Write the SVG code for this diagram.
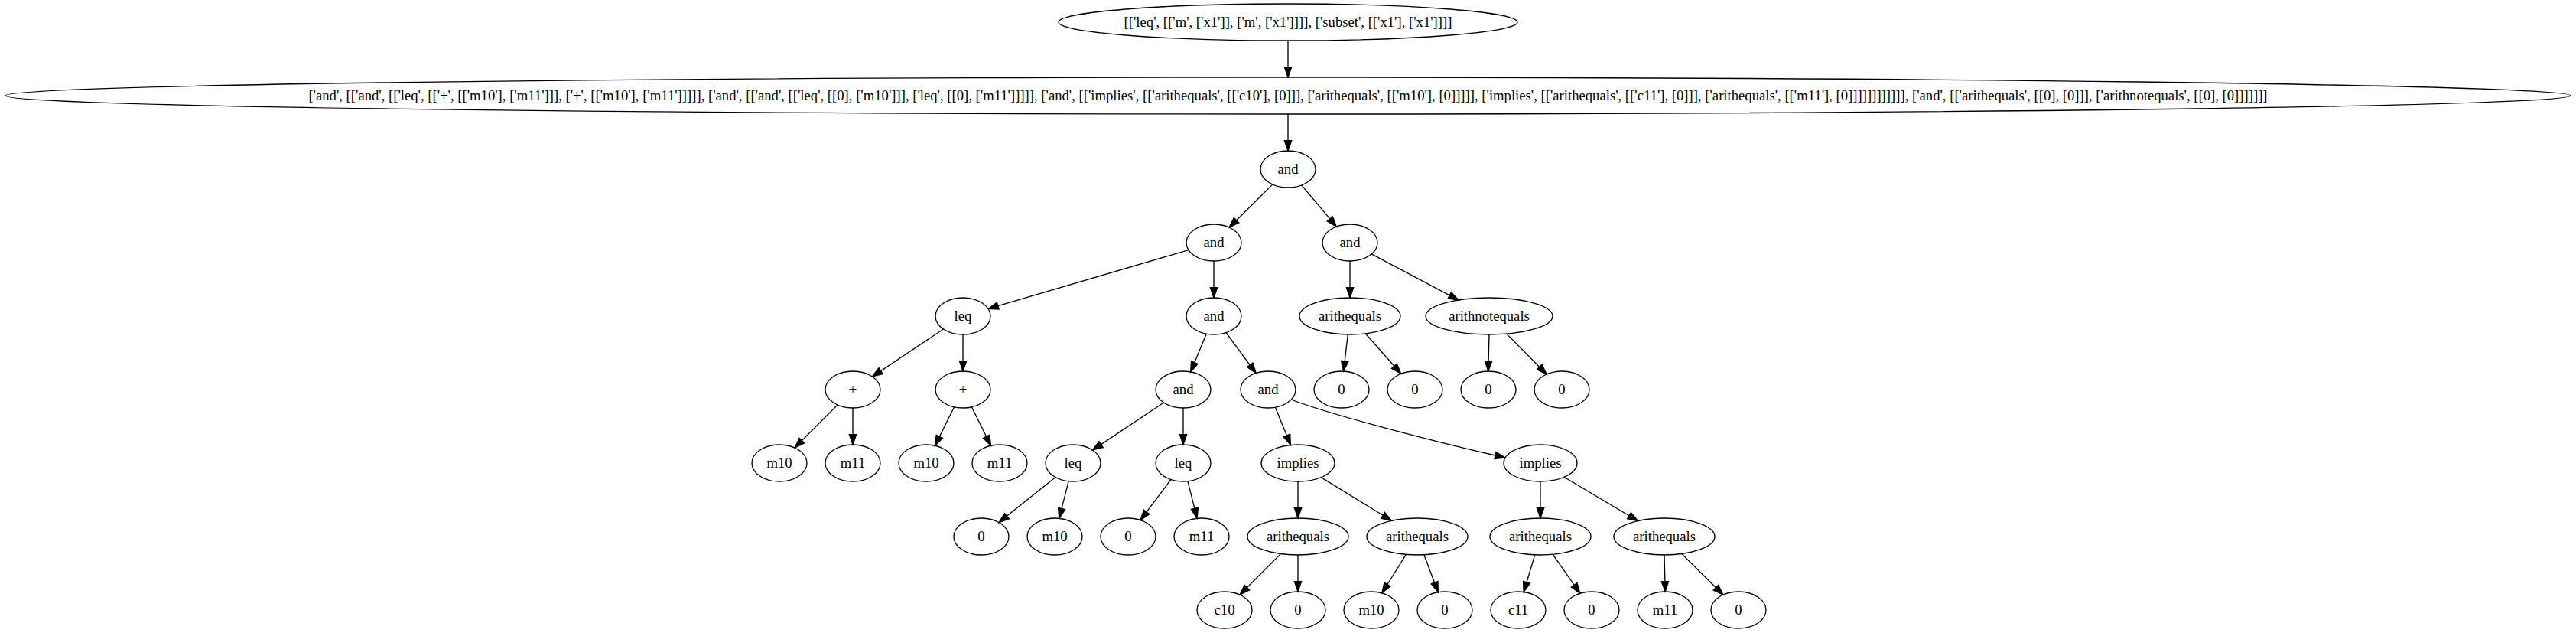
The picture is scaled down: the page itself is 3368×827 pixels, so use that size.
<svg xmlns="http://www.w3.org/2000/svg" width="3368" height="827" viewBox="0 0 3368 827">
<style>
.n ellipse{fill:none;stroke:#000;stroke-width:1.33}
.n text{font-family:"Liberation Serif","Times New Roman",serif;font-size:18.67px;text-anchor:middle;fill:#000}
#edges path{fill:none;stroke:#000;stroke-width:1.33;marker-end:url(#ah)}
</style>
<defs>
<marker id="ah" markerWidth="14" markerHeight="10" refX="0" refY="4.67" orient="auto" markerUnits="userSpaceOnUse" overflow="visible">
<path d="M0,0 L13.33,4.67 L0,9.33 Z" fill="#000" stroke="#000" stroke-width="1.33"/>
</marker>
</defs>
<rect width="3368" height="827" fill="#fff"/>
<g id="edges">
<path d="M1684,53 L1684,87.7"/>
<path d="M1684,149 L1684,183.7"/>
<path d="M1663.9,240.9 L1616.6,287.7"/>
<path d="M1701.7,241.9 L1738.8,285.9"/>
<path d="M1554,326.6 L1304.8,399.6"/>
<path d="M1587,341 L1587,375.7"/>
<path d="M1765,341 L1765,375.7"/>
<path d="M1793.2,331.9 L1895.3,385.8"/>
<path d="M1233.5,430 L1151.6,484.6"/>
<path d="M1259,437 L1259,471.7"/>
<path d="M1577.4,436.1 L1561.8,473.6"/>
<path d="M1602.9,434.5 L1634.2,476.8"/>
<path d="M1762.3,437 L1758.2,471.8"/>
<path d="M1785.2,435.8 L1822.9,478.3"/>
<path d="M1947,437 L1946.1,471.7"/>
<path d="M1969.8,436.1 L2012.8,479.5"/>
<path d="M1095,529 L1048.4,575.6"/>
<path d="M1115,533 L1115,567.7"/>
<path d="M1247.6,531.8 L1228.4,570.3"/>
<path d="M1270.4,531.8 L1289.6,570.3"/>
<path d="M1521.5,526 L1439.6,580.6"/>
<path d="M1547,533 L1547,567.7"/>
<path d="M1667.4,532.2 L1682.4,569.1"/>
<path d="M1688,522 C1740,542 1880,578 1955,595"/>
<path d="M1380,623.4 L1316.4,674.3"/>
<path d="M1397.1,628.7 L1388.1,664.4"/>
<path d="M1530.9,626.5 L1499.1,668.9"/>
<path d="M1552.9,628.7 L1561.9,664.4"/>
<path d="M1697,629 L1697,663.7"/>
<path d="M1727.3,623.6 L1808.1,673.3"/>
<path d="M2014,629 L2014,663.7"/>
<path d="M2045,623.3 L2130,673.7"/>
<path d="M1674.4,723.6 L1630.4,767.6"/>
<path d="M1697,725 L1697,759.7"/>
<path d="M1838.4,724.4 L1813.9,763.5"/>
<path d="M1861.9,724.8 L1875.6,761.2"/>
<path d="M2006.8,724.9 L1996,760.7"/>
<path d="M2030.2,724.3 L2058.2,764.3"/>
<path d="M2176,725 L2176.9,759.7"/>
<path d="M2198.8,723.5 L2243.4,767.7"/>
</g>
<g id="n0" class="n"><ellipse cx="1684" cy="29" rx="300" ry="24"/><text x="1684" y="35">[['leq', [['m', ['x1']], ['m', ['x1']]]], ['subset', [['x1'], ['x1']]]]</text></g>
<g id="n1" class="n"><ellipse cx="1684" cy="125" rx="1677" ry="24"/><text x="1684" y="131">['and', [['and', [['leq', [['+', [['m10'], ['m11']]], ['+', [['m10'], ['m11']]]]], ['and', [['and', [['leq', [[0], ['m10']]], ['leq', [[0], ['m11']]]]], ['and', [['implies', [['arithequals', [['c10'], [0]]], ['arithequals', [['m10'], [0]]]]], ['implies', [['arithequals', [['c11'], [0]]], ['arithequals', [['m11'], [0]]]]]]]]]]]], ['and', [['arithequals', [[0], [0]]], ['arithnotequals', [[0], [0]]]]]]]</text></g>
<g id="n2" class="n"><ellipse cx="1684" cy="221" rx="36" ry="24"/><text x="1684" y="227">and</text></g>
<g id="n3" class="n"><ellipse cx="1587" cy="317" rx="36" ry="24"/><text x="1587" y="323">and</text></g>
<g id="n4" class="n"><ellipse cx="1765" cy="317" rx="36" ry="24"/><text x="1765" y="323">and</text></g>
<g id="n5" class="n"><ellipse cx="1259" cy="413" rx="36" ry="24"/><text x="1259" y="419">leq</text></g>
<g id="n6" class="n"><ellipse cx="1587" cy="413" rx="36" ry="24"/><text x="1587" y="419">and</text></g>
<g id="n7" class="n"><ellipse cx="1765" cy="413" rx="66" ry="24"/><text x="1765" y="419">arithequals</text></g>
<g id="n8" class="n"><ellipse cx="1947" cy="413" rx="83" ry="24"/><text x="1947" y="419">arithnotequals</text></g>
<g id="n9" class="n"><ellipse cx="1115" cy="509" rx="36" ry="24"/><text x="1115" y="515">+</text></g>
<g id="n10" class="n"><ellipse cx="1259" cy="509" rx="36" ry="24"/><text x="1259" y="515">+</text></g>
<g id="n11" class="n"><ellipse cx="1547" cy="509" rx="36" ry="24"/><text x="1547" y="515">and</text></g>
<g id="n12" class="n"><ellipse cx="1658" cy="509" rx="36" ry="24"/><text x="1658" y="515">and</text></g>
<g id="n13" class="n"><ellipse cx="1754" cy="509" rx="36" ry="24"/><text x="1754" y="515">0</text></g>
<g id="n14" class="n"><ellipse cx="1850" cy="509" rx="36" ry="24"/><text x="1850" y="515">0</text></g>
<g id="n15" class="n"><ellipse cx="1946" cy="509" rx="36" ry="24"/><text x="1946" y="515">0</text></g>
<g id="n16" class="n"><ellipse cx="2042" cy="509" rx="36" ry="24"/><text x="2042" y="515">0</text></g>
<g id="n17" class="n"><ellipse cx="1019" cy="605" rx="36" ry="24"/><text x="1019" y="611">m10</text></g>
<g id="n18" class="n"><ellipse cx="1115" cy="605" rx="36" ry="24"/><text x="1115" y="611">m11</text></g>
<g id="n19" class="n"><ellipse cx="1211" cy="605" rx="36" ry="24"/><text x="1211" y="611">m10</text></g>
<g id="n20" class="n"><ellipse cx="1307" cy="605" rx="36" ry="24"/><text x="1307" y="611">m11</text></g>
<g id="n21" class="n"><ellipse cx="1403" cy="605" rx="36" ry="24"/><text x="1403" y="611">leq</text></g>
<g id="n22" class="n"><ellipse cx="1547" cy="605" rx="36" ry="24"/><text x="1547" y="611">leq</text></g>
<g id="n23" class="n"><ellipse cx="1697" cy="605" rx="48" ry="24"/><text x="1697" y="611">implies</text></g>
<g id="n24" class="n"><ellipse cx="2014" cy="605" rx="48" ry="24"/><text x="2014" y="611">implies</text></g>
<g id="n25" class="n"><ellipse cx="1283" cy="701" rx="36" ry="24"/><text x="1283" y="707">0</text></g>
<g id="n26" class="n"><ellipse cx="1379" cy="701" rx="36" ry="24"/><text x="1379" y="707">m10</text></g>
<g id="n27" class="n"><ellipse cx="1475" cy="701" rx="36" ry="24"/><text x="1475" y="707">0</text></g>
<g id="n28" class="n"><ellipse cx="1571" cy="701" rx="36" ry="24"/><text x="1571" y="707">m11</text></g>
<g id="n29" class="n"><ellipse cx="1697" cy="701" rx="66" ry="24"/><text x="1697" y="707">arithequals</text></g>
<g id="n30" class="n"><ellipse cx="1853" cy="701" rx="66" ry="24"/><text x="1853" y="707">arithequals</text></g>
<g id="n31" class="n"><ellipse cx="2014" cy="701" rx="66" ry="24"/><text x="2014" y="707">arithequals</text></g>
<g id="n32" class="n"><ellipse cx="2176" cy="701" rx="66" ry="24"/><text x="2176" y="707">arithequals</text></g>
<g id="n33" class="n"><ellipse cx="1601" cy="797" rx="36" ry="24"/><text x="1601" y="803">c10</text></g>
<g id="n34" class="n"><ellipse cx="1697" cy="797" rx="36" ry="24"/><text x="1697" y="803">0</text></g>
<g id="n35" class="n"><ellipse cx="1793" cy="797" rx="36" ry="24"/><text x="1793" y="803">m10</text></g>
<g id="n36" class="n"><ellipse cx="1889" cy="797" rx="36" ry="24"/><text x="1889" y="803">0</text></g>
<g id="n37" class="n"><ellipse cx="1985" cy="797" rx="36" ry="24"/><text x="1985" y="803">c11</text></g>
<g id="n38" class="n"><ellipse cx="2081" cy="797" rx="36" ry="24"/><text x="2081" y="803">0</text></g>
<g id="n39" class="n"><ellipse cx="2177" cy="797" rx="36" ry="24"/><text x="2177" y="803">m11</text></g>
<g id="n40" class="n"><ellipse cx="2273" cy="797" rx="36" ry="24"/><text x="2273" y="803">0</text></g>
</svg>
